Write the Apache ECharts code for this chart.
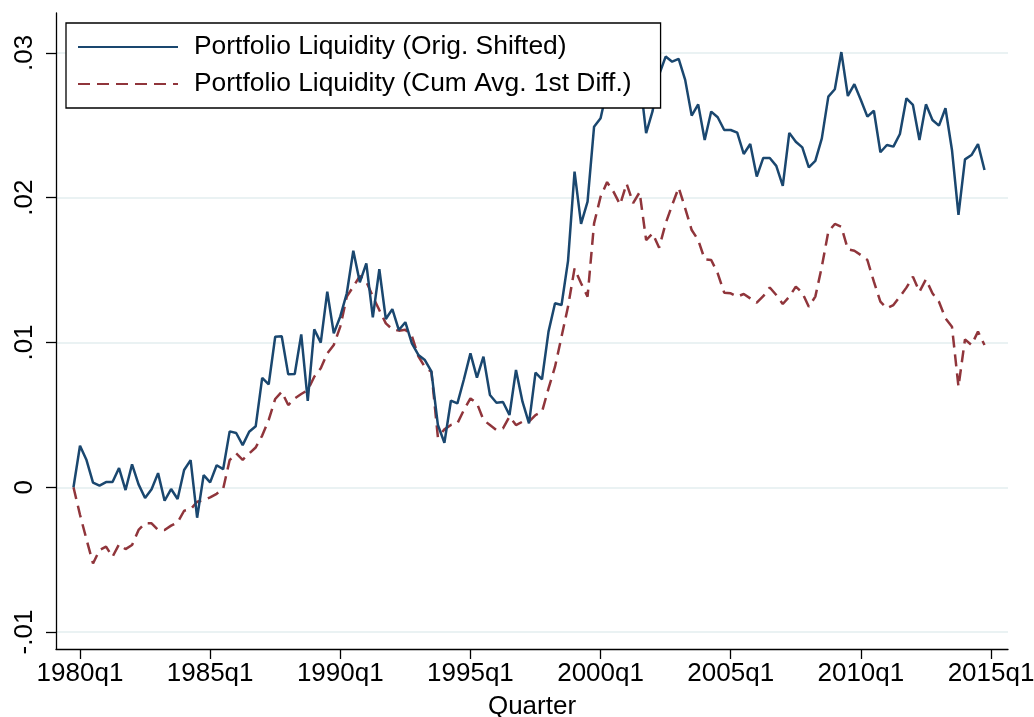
<!DOCTYPE html>
<html>
<head>
<meta charset="utf-8">
<script src="https://cdn.jsdelivr.net/npm/echarts@6/dist/echarts.min.js"></script>
<style>
html,body{margin:0;padding:0;background:#fff;}
#chart{width:1034px;height:717px;}
</style>
</head>
<body>
<div id="chart"></div>
<script>
// Quarters covered by the data: 1979q4 .. 2014q4
const firstQuarter = '1979q4';
const nQuarters = 141;
const quarters = [];
(function(){
  let y = parseInt(firstQuarter.slice(0,4)), q = parseInt(firstQuarter.slice(5));
  for (let k = 0; k < nQuarters; k++) {
    quarters.push(y + 'q' + q);
    q++; if (q > 4) { q = 1; y++; }
  }
})();

const seriesNames = ['Portfolio Liquidity (Orig. Shifted)', 'Portfolio Liquidity (Cum Avg. 1st Diff.)'];

const origShifted = [
  0, 0.00287, 0.00188, 0.00032, 0.00011, 0.00036, 0.00036, 0.00133, -0.00019, 0.00158,
  0.00020, -0.00074, -0.00014, 0.00098, -0.00093, -0.00012, -0.00081, 0.00119, 0.00188, -0.00210,
  0.00084, 0.00034, 0.00152, 0.00125, 0.00386, 0.00375, 0.00291, 0.00384, 0.00421, 0.00756,
  0.00711, 0.01040, 0.01043, 0.00780, 0.00782, 0.01056, 0.00596, 0.01091, 0.00999, 0.01351,
  0.01063, 0.01180, 0.01340, 0.01634, 0.01416, 0.01547, 0.01174, 0.01506, 0.01162, 0.01231,
  0.01086, 0.01140, 0.00994, 0.00914, 0.00879, 0.00800, 0.00430, 0.00308, 0.00598, 0.00580,
  0.00746, 0.00925, 0.00757, 0.00902, 0.00637, 0.00584, 0.00589, 0.00499, 0.00810, 0.00591,
  0.00442, 0.00792, 0.00746, 0.01075, 0.01271, 0.01259, 0.01564, 0.02180, 0.01819, 0.01973,
  0.02491, 0.02549, 0.02750, 0.02820, 0.02780, 0.02860, 0.02790, 0.02840, 0.02446, 0.02600,
  0.02850, 0.02975, 0.02940, 0.02959, 0.02814, 0.02567, 0.02645, 0.02399, 0.02595, 0.02556,
  0.02468, 0.02468, 0.02450, 0.02302, 0.02371, 0.02146, 0.02275, 0.02275, 0.02220, 0.02082,
  0.02448, 0.02387, 0.02348, 0.02210, 0.02254, 0.02410, 0.02698, 0.02749, 0.03006, 0.02703,
  0.02784, 0.02675, 0.02560, 0.02601, 0.02314, 0.02364, 0.02353, 0.02440, 0.02687, 0.02641,
  0.02399, 0.02645, 0.02537, 0.02498, 0.02618, 0.02330, 0.01881, 0.02265, 0.02295, 0.02371,
  0.02192
];

const cumAvgDiff = [
  0, -0.00190, -0.00360, -0.00526, -0.00434, -0.00410, -0.00480, -0.00394, -0.00427, -0.00399,
  -0.00295, -0.00249, -0.00249, -0.00295, -0.00295, -0.00265, -0.00242, -0.00162, -0.00152, -0.00100,
  -0.00090, -0.00070, -0.00045, -0.00010, 0.00188, 0.00234, 0.00190, 0.00234, 0.00275, 0.00357,
  0.00465, 0.00610, 0.00660, 0.00568, 0.00614, 0.00644, 0.00672, 0.00764, 0.00822, 0.00925,
  0.00983, 0.01110, 0.01317, 0.01386, 0.01459, 0.01420, 0.01317, 0.01224, 0.01132, 0.01091,
  0.01082, 0.01088, 0.01045, 0.00905, 0.00830, 0.00798, 0.00345, 0.00400, 0.00430, 0.00442,
  0.00534, 0.00614, 0.00580, 0.00465, 0.00430, 0.00395, 0.00407, 0.00488, 0.00430, 0.00453,
  0.00453, 0.00499, 0.00522, 0.00683, 0.00833, 0.01040, 0.01248, 0.01512, 0.01409, 0.01317,
  0.01823, 0.02007, 0.02108, 0.02040, 0.01952, 0.02097, 0.01963, 0.02038, 0.01708, 0.01754,
  0.01655, 0.01823, 0.01950, 0.02070, 0.01927, 0.01777, 0.01708, 0.01575, 0.01570, 0.01478,
  0.01344, 0.01340, 0.01317, 0.01335, 0.01305, 0.01275, 0.01320, 0.01380, 0.01328, 0.01266,
  0.01317, 0.01386, 0.01344, 0.01247, 0.01317, 0.01524, 0.01766, 0.01819, 0.01800, 0.01644,
  0.01634, 0.01604, 0.01570, 0.01420, 0.01282, 0.01236, 0.01259, 0.01317, 0.01379, 0.01455,
  0.01351, 0.01436, 0.01340, 0.01282, 0.01167, 0.01109, 0.00695, 0.01022, 0.00983, 0.01075,
  0.00983
];

const xTickLabels = ['1980q1','1985q1','1990q1','1995q1','2000q1','2005q1','2010q1','2015q1'];
const yTickValues = [-0.01, 0, 0.01, 0.02, 0.03];
const yTickLabels = ['-.01', '0', '.01', '.02', '.03'];
const xAxisTitle = 'Quarter';

// quarter label -> numeric quarter index relative to 1980q1
function qIndex(s) {
  return (parseInt(s.slice(0,4)) - 1980) * 4 + (parseInt(s.slice(5)) - 1);
}
const xTickValues = xTickLabels.map(qIndex);
const xLabelMap = {};
xTickLabels.forEach(l => { xLabelMap[qIndex(l)] = l; });
const yLabelMap = {};
yTickValues.forEach((v, i) => { yLabelMap[v.toFixed(4)] = yTickLabels[i]; });

const blueData = quarters.map((q, i) => [qIndex(q), origShifted[i]]);
const redData = quarters.map((q, i) => [qIndex(q), cumAvgDiff[i]]);

const FONT = '"Liberation Sans", Arial, Helvetica, sans-serif';
const chart = echarts.init(document.getElementById('chart'), null, {renderer: 'canvas'});
chart.setOption({
  animation: false,
  backgroundColor: '#ffffff',
  textStyle: {fontFamily: FONT},
  grid: {left: 56, right: 26, top: 13, bottom: 68, containLabel: false, outerBoundsMode: 'none'},
  legend: {
    orient: 'vertical',
    left: 66, top: 23,
    padding: [11, 29, 11, 11],
    itemGap: 11,
    itemWidth: 100,
    itemHeight: 26,
    backgroundColor: '#ffffff',
    borderColor: '#000000',
    borderWidth: 1.3,
    itemStyle: {opacity: 0},
    textStyle: {fontFamily: FONT, fontSize: 26.4, color: '#000', padding: [0,0,0,11], lineHeight: 26},
    data: seriesNames
  },
  xAxis: {
    type: 'value',
    min: -3.688, max: 142.61,
    name: xAxisTitle,
    nameLocation: 'middle',
    nameGap: 45,
    nameTextStyle: {fontFamily: FONT, fontSize: 26, color: '#000'},
    axisLine: {show: true, onZero: false, lineStyle: {color: '#000', width: 1.3}},
    axisTick: {show: true, length: 10, customValues: xTickValues, lineStyle: {color: '#000', width: 1.3}},
    axisLabel: {customValues: xTickValues, fontFamily: FONT, fontSize: 26, color: '#000', margin: 12,
      formatter: v => xLabelMap[Math.round(v)] || ''},
    splitLine: {show: false}
  },
  yAxis: {
    type: 'value',
    min: -0.01117, max: 0.03276,
    axisLine: {show: true, onZero: false, lineStyle: {color: '#000', width: 1.3}},
    axisTick: {show: true, length: 10, customValues: yTickValues, lineStyle: {color: '#000', width: 1.3}},
    axisLabel: {customValues: yTickValues, rotate: 90, fontFamily: FONT, fontSize: 26, color: '#000', margin: 18,
      formatter: v => yLabelMap[Number(v).toFixed(4)] || ''},
    splitLine: {show: true, lineStyle: {color: '#eaf2f3', width: 1.8}}
  },
  series: [
    {
      name: seriesNames[0], type: 'line', data: blueData,
      showSymbol: false, symbol: 'none',
      lineStyle: {color: '#1a476f', width: 2.5},
      itemStyle: {color: '#1a476f'},
      z: 3
    },
    {
      name: seriesNames[1], type: 'line', data: redData,
      showSymbol: false, symbol: 'none',
      lineStyle: {color: '#90353b', width: 2.5, type: [12, 7]},
      itemStyle: {color: '#90353b'},
      z: 2
    }
  ]
});
</script>
</body>
</html>
